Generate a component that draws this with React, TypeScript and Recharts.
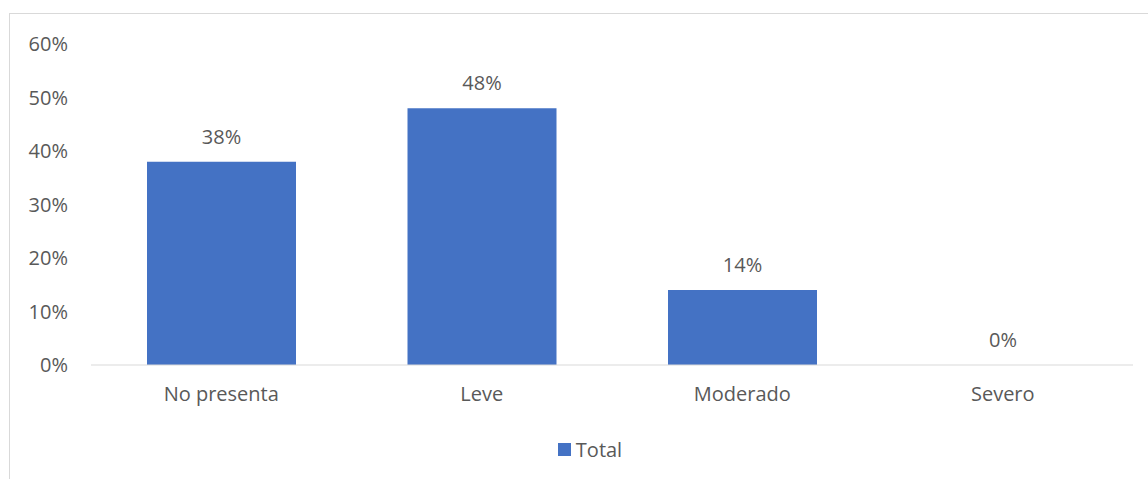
import { BarChart, Bar, XAxis, YAxis, Legend, LabelList } from 'recharts';

const categories = ['No presenta', 'Leve', 'Moderado', 'Severo'];
const totals = [38, 48, 14, 0];
const yTicks = [0, 10, 20, 30, 40, 50, 60];

const data = categories.map((name, i) => ({ name, Total: totals[i] }));

const TEXT = '#595959';
const GRID = '#d9d9d9';
const BLUE = '#4472C4';
const FONT = '"Open Sans", sans-serif';

const LegendBox = () => (
  <div
    style={{
      display: 'flex',
      justifyContent: 'center',
      alignItems: 'center',
      height: 24,
      paddingLeft: 36,
      fontFamily: FONT,
      fontSize: 20,
      color: TEXT,
    }}
  >
    <span style={{ width: 13, height: 13, background: BLUE, display: 'inline-block', marginRight: 5 }} />
    <span>Total</span>
  </div>
);

export default function App() {
  return (
    <div
      style={{
        position: 'absolute',
        left: 0,
        top: 0,
        width: 1148,
        height: 479,
        overflow: 'hidden',
        background: '#fff',
      }}
    >
      <div
        style={{
          position: 'absolute',
          left: 9,
          top: 13,
          width: 1300,
          height: 600,
          borderLeft: `1px solid ${GRID}`,
          borderTop: `1px solid ${GRID}`,
        }}
      />
      <div style={{ position: 'absolute', left: 0, top: 0 }}>
        <BarChart
          width={1148}
          height={479}
          data={data}
          margin={{ top: 44, right: 15, left: 11, bottom: 18 }}
          style={{ fontFamily: FONT }}
        >
          <XAxis
            dataKey="name"
            height={72}
            tickLine={false}
            axisLine={{ stroke: GRID, strokeWidth: 1 }}
            tickMargin={16}
            tick={{ fill: TEXT, fontSize: 20 }}
          />
          <YAxis
            width={80}
            domain={[0, 60]}
            ticks={yTicks}
            interval={0}
            axisLine={false}
            tickLine={false}
            tickMargin={17}
            tickFormatter={(v: number) => `${v}%`}
            tick={{ fill: TEXT, fontSize: 20 }}
          />
          <Legend verticalAlign="bottom" content={() => <LegendBox />} />
          <Bar
            dataKey="Total"
            fill={BLUE}
            barSize={149}
            minPointSize={(v: number) => (v === 0 ? 0.01 : 0)}
            isAnimationActive={false}
          >
            <LabelList
              dataKey="Total"
              position="top"
              offset={18}
              formatter={(v: number) => `${v}%`}
              style={{ fill: TEXT, fontSize: 20 }}
            />
          </Bar>
        </BarChart>
      </div>
    </div>
  );
}
